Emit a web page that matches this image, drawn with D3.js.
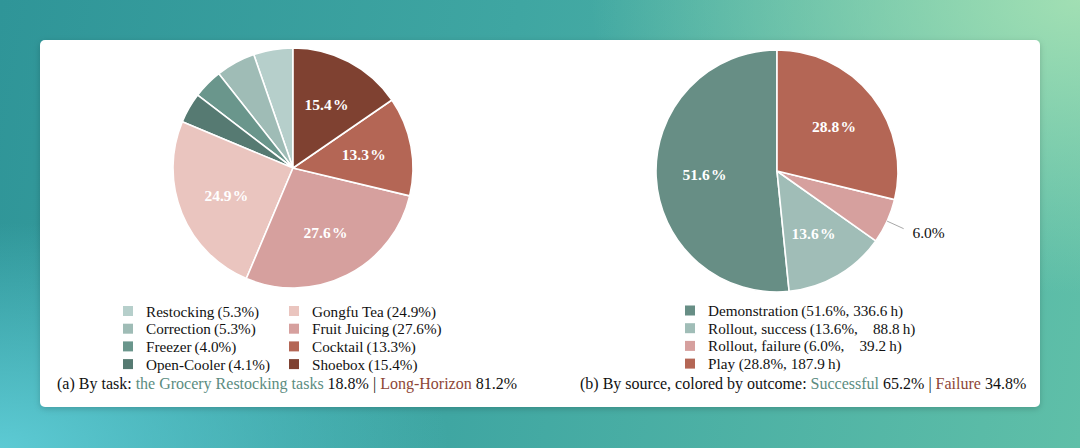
<!DOCTYPE html>
<html>
<head>
<meta charset="utf-8">
<script src="https://cdn.jsdelivr.net/npm/d3@7"></script>
<style>
  html, body { margin:0; padding:0; width:1080px; height:448px; overflow:hidden; }
  body {
    background:
      radial-gradient(ellipse 700px 420px at 1080px 0px, rgba(165,225,180,0.95), rgba(165,225,180,0) 70%),
      radial-gradient(ellipse 600px 300px at 0px 448px, rgba(95,205,215,0.95), rgba(95,205,215,0) 75%),
      linear-gradient(100deg, #2f9598 0%, #3fa6a2 45%, #5fbfa8 100%);
  }
  svg { position:absolute; left:0; top:0; }
</style>
</head>
<body>
<svg id="chart" width="1080" height="448"></svg>
<script>
// ---- data ----
const taskNames  = ["Restocking", "Correction", "Freezer", "Open-Cooler", "Gongfu Tea", "Fruit Juicing", "Cocktail", "Shoebox"];
const taskValues = [5.3, 5.3, 4.0, 4.1, 24.9, 27.6, 13.3, 15.4];
const taskColors = ["#b6cfcb", "#9fbcb6", "#6a968c", "#567a72", "#eac5bf", "#d6a09e", "#b46655", "#7f4131"];

const sourceNames  = ["Demonstration", "Rollout, success", "Rollout, failure", "Play"];
const sourceValues = [51.6, 13.6, 6.0, 28.8];
const sourceHours  = ["336.6", "88.8", "39.2", "187.9"];
const sourceColors = ["#678e85", "#a0bdb7", "#d6a09e", "#b46655"];

const captionA = [
  {t:"(a) By task: ", c:"#111"},
  {t:"the Grocery Restocking tasks", c:"#5b8c7f"},
  {t:" 18.8% | ", c:"#111"},
  {t:"Long-Horizon", c:"#8e4636"},
  {t:" 81.2%", c:"#111"}
];
const captionB = [
  {t:"(b) By source, colored by outcome: ", c:"#111"},
  {t:"Successful", c:"#5b8c7f"},
  {t:" 65.2% | ", c:"#111"},
  {t:"Failure", c:"#8e4636"},
  {t:" 34.8%", c:"#111"}
];

const FONT = "'Liberation Serif', 'Times New Roman', serif";
const svg = d3.select("#chart");

// card
const defs = svg.append("defs");
const f = defs.append("filter").attr("id","shadow").attr("x","-5%").attr("y","-5%").attr("width","110%").attr("height","115%");
f.append("feDropShadow").attr("dx",0).attr("dy",2).attr("stdDeviation",3).attr("flood-color","#000").attr("flood-opacity",0.18);
svg.append("rect").attr("x",40).attr("y",40).attr("width",1000).attr("height",367)
  .attr("rx",5).attr("fill","#fff").attr("filter","url(#shadow)");

const pie = d3.pie().sort(null).value(d => d).startAngle(0).endAngle(-2*Math.PI);

function drawPie(cx, cy, r, values, colors, labelFn) {
  const g = svg.append("g").attr("transform", `translate(${cx},${cy})`);
  const arcs = pie(values);
  const arc = d3.arc().innerRadius(0).outerRadius(r);
  g.selectAll("path").data(arcs).join("path")
    .attr("d", arc).attr("fill", (d,i) => colors[i])
    .attr("stroke", "#fff").attr("stroke-width", 1.6).attr("stroke-linejoin","round");
  arcs.forEach((d,i) => labelFn(g, d, i, r));
}

function insideLabel(g, d, r, txt) {
  const a = (d.startAngle + d.endAngle) / 2;
  const rr = 0.6 * r;
  g.append("text")
    .attr("x", Math.sin(a) * rr).attr("y", -Math.cos(a) * rr)
    .attr("text-anchor","middle").attr("dominant-baseline","central")
    .attr("font-family", FONT).attr("font-weight","bold").attr("font-size", 15.5)
    .attr("fill","#fff").text(txt);
}

// left pie
drawPie(293, 168, 120, taskValues, taskColors, (g, d, i, r) => {
  if (taskValues[i] > 10) insideLabel(g, d, r, taskValues[i].toFixed(1) + "\u200A%");
});

// right pie
drawPie(777, 171, 121, sourceValues, sourceColors, (g, d, i, r) => {
  if (sourceValues[i] > 10) {
    insideLabel(g, d, r, sourceValues[i].toFixed(1) + "\u200A%");
  } else {
    const a = (d.startAngle + d.endAngle) / 2;
    const sx = Math.sin(a), sy = -Math.cos(a);
    g.append("line")
      .attr("x1", sx * r * 1.0).attr("y1", sy * r * 1.0)
      .attr("x2", sx * r * 1.15).attr("y2", sy * r * 1.15)
      .attr("stroke","#a8a8a8").attr("stroke-width",1);
    g.append("text")
      .attr("x", sx * r * 1.23).attr("y", sy * r * 1.23)
      .attr("text-anchor","start").attr("dominant-baseline","central")
      .attr("font-family", FONT).attr("font-size", 15.5).attr("fill","#111")
      .text(sourceValues[i].toFixed(1) + "%");
  }
});

// legends
const rowY = [311, 328.7, 346.4, 364.1];
function legendItem(x, y, color, label) {
  svg.append("rect").attr("x", x).attr("y", y - 5).attr("width", 10).attr("height", 10).attr("fill", color);
  svg.append("text").attr("x", x + 23).attr("y", y)
    .attr("dominant-baseline","central").attr("xml:space","preserve")
    .style("white-space","pre")
    .attr("font-family", FONT).attr("font-size", 15.2).attr("fill","#111").text(label);
}
taskNames.forEach((n, i) => {
  const col = Math.floor(i / 4), row = i % 4;
  legendItem(col === 0 ? 123 : 289, rowY[row], taskColors[i], `${n}\u2009(${taskValues[i].toFixed(1)}%)`);
});
sourceNames.forEach((n, i) => {
  const short = sourceHours[i].length < 5;
  const label = n === "Play"
    ? `${n} (${sourceValues[i].toFixed(1)}%, ${sourceHours[i]}\u2009h)`
    : `${n}\u2009(${sourceValues[i].toFixed(1)}%,${short ? "\u2007\u2007" : " "}${sourceHours[i]}\u2009h)`;
  legendItem(685, rowY[i] - 0.5, sourceColors[i], label);
});

// captions
function caption(x, y, parts) {
  const t = svg.append("text").attr("x", x).attr("y", y)
    .attr("font-family", FONT).attr("font-size", 16).attr("xml:space","preserve").style("white-space","pre");
  parts.forEach(p => t.append("tspan").attr("fill", p.c).text(p.t));
}
caption(57, 389, captionA);
caption(580, 389, captionB);
</script>
</body>
</html>
